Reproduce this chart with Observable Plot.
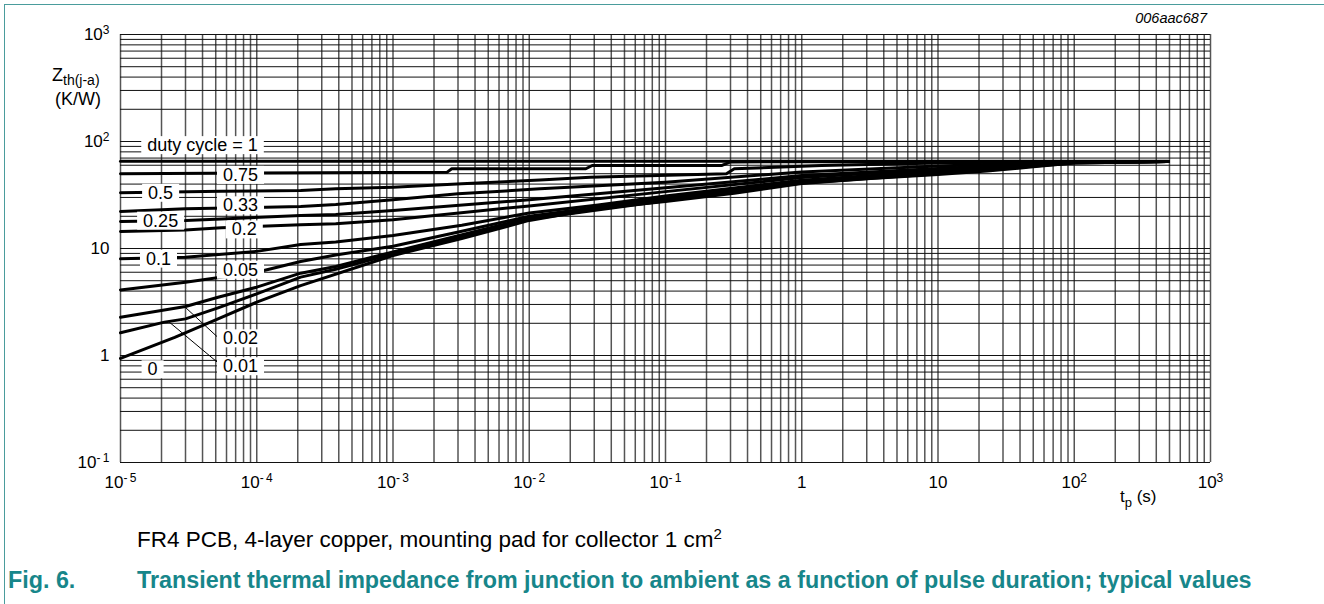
<!DOCTYPE html>
<html><head><meta charset="utf-8">
<script src="https://cdn.jsdelivr.net/npm/d3@7"></script>
<script src="https://cdn.jsdelivr.net/npm/@observablehq/plot@0.6"></script>
<style>
html,body{margin:0;padding:0;background:#fff;}
#fig{position:relative;width:1324px;height:604px;overflow:hidden;font-family:"Liberation Sans",Arial,sans-serif;}
#frame{position:absolute;left:4px;top:4px;right:0;bottom:0;border-left:1.5px solid #4a9c9c;border-top:1.5px solid #4a9c9c;}
#chart{position:absolute;left:0;top:0;}
.cap{position:absolute;line-height:26px;white-space:nowrap;}
#note{left:137px;top:527px;color:#000;font-size:22.5px;}
#note sup{font-size:15px;position:relative;top:-6px;vertical-align:top;}
#fignum{left:8px;top:567px;font-weight:bold;color:#17868a;font-size:23.3px;}
#figtxt{left:137px;top:567px;font-weight:bold;color:#17868a;font-size:23.3px;}
</style></head>
<body>
<div id="fig">
  <div id="frame"></div>
  <div id="chart"></div>
  <div class="cap" id="note">FR4 PCB, 4-layer copper, mounting pad for collector 1 cm<sup>2</sup></div>
  <div class="cap" id="fignum">Fig. 6.</div>
  <div class="cap" id="figtxt">Transient thermal impedance from junction to ambient as a function of pulse duration; typical values</div>
</div>
<script>
// ---- data ----
const dutyCycles = ["1", "0.75", "0.5", "0.33", "0.25", "0.2", "0.1", "0.05", "0.02", "0.01", "0"];

const t_d1   = [1e-5, 490];
const z_d1   = [65.5, 65.5];

const t_d075 = [1e-5, 2.5e-3, 2.7e-3, 2.6e-2, 2.9e-2, 0.26, 0.3, 490];
const z_d075 = [50, 51.7, 55.6, 55.6, 59.7, 59.7, 64.5, 65];

const t_d05  = [1e-5, 5.5e-5, 2.1e-4, 3.8e-4, 1e-3, 3.2e-3, 1.2e-2, 2.8e-2, 0.28, 0.32, 1.4, 10, 100, 490];
const z_d05  = [33.2, 34.2, 34.8, 36.1, 37.4, 40.3, 43.7, 46.4, 49.9, 55.6, 59.7, 63, 65, 65];

const t_d033 = [1e-5, 3e-5, 2.1e-4, 3.8e-4, 1e-3, 3e-3, 1.2e-2, 0.1, 1, 10, 100, 490];
const z_d033 = [22.2, 23.5, 24.7, 25.8, 28.6, 32.5, 36.1, 41.7, 52, 59, 64.5, 65];

const t_d025 = [1e-5, 3e-5, 5.5e-5, 2.1e-4, 3.8e-4, 1e-3, 1e-2, 0.1, 1, 10, 100, 490];
const z_d025 = [17.9, 18.3, 18.9, 20.3, 20.8, 22.6, 28.5, 37, 48, 56, 64, 65];

const t_d02  = [1e-5, 3e-5, 5.5e-5, 2.1e-4, 3.8e-4, 1e-3, 1e-2, 0.1, 1, 10, 100, 490];
const z_d02  = [14.4, 14.9, 15.6, 16.7, 17.0, 18.6, 25, 34, 46, 55, 64, 65];

const t_d01  = [1e-5, 3e-5, 1e-4, 2.1e-4, 3.8e-4, 1e-3, 3.2e-3, 1e-2, 3.2e-2, 0.1, 1, 10, 100, 490];
const z_d01  = [8.0, 8.3, 9.4, 10.9, 11.5, 13.2, 16.5, 21.5, 25.5, 31, 43.5, 53, 64, 65];

const t_d005 = [1e-5, 3e-5, 1e-4, 2.1e-4, 3.8e-4, 1e-3, 3.2e-3, 1e-2, 0.1, 1, 10, 100, 490];
const z_d005 = [4.1, 4.84, 6.0, 7.56, 8.7, 10.5, 14.5, 20, 29.5, 42.5, 52, 64, 65];

const t_d002 = [1e-5, 3e-5, 5.2e-5, 1e-4, 2.1e-4, 3.8e-4, 1e-3, 1e-2, 0.1, 1, 10, 100, 490];
const z_d002 = [2.28, 2.87, 3.5, 4.35, 5.88, 6.8, 9.3, 19.3, 28.5, 41.5, 50.5, 63.5, 65];

const t_d001 = [1e-5, 2.1e-5, 3e-5, 5.2e-5, 1e-4, 2.1e-4, 3.8e-4, 1e-3, 1e-2, 0.1, 1, 10, 100, 490];
const z_d001 = [1.63, 2.05, 2.2, 2.79, 3.77, 5.4, 6.4, 8.9, 18.8, 28, 41, 50, 63, 65];

const t_d0   = [1e-5, 2.5e-5, 5.2e-5, 1e-4, 2.1e-4, 1e-3, 3.2e-3, 1e-2, 3.2e-2, 0.1, 0.32, 1, 3.2, 10, 23, 50, 100, 490];
const z_d0   = [0.94, 1.48, 2.2, 3.15, 4.5, 8.6, 12.4, 18.3, 23.7, 27.5, 32.9, 40.5, 45, 49.2, 53, 58, 63, 65];

// label annotations (text, t, Z)
const labelText = ["duty cycle = 1", "0.75", "0.5", "0.33", "0.25", "0.2", "0.1", "0.05", "0.02", "0.01", "0"];
const labelT    = [4.0e-5, 7.6e-5, 1.97e-5, 7.6e-5, 1.97e-5, 8.1e-5, 1.9e-5, 7.6e-5, 7.6e-5, 7.6e-5, 1.72e-5];
const labelZ    = [92, 48.5, 33, 25.2, 18.1, 15.0, 8.0, 6.3, 1.44, 0.79, 0.74];

// leader lines (from curve to label)
const leaderT1 = [3.0e-5, 2.25e-5];
const leaderZ1 = [2.81, 2.08];
const leaderT2 = [5.6e-5, 5.6e-5];
const leaderZ2 = [1.35, 0.79];

// axis ticks
const xTicks = [1e-5, 1e-4, 1e-3, 1e-2, 1e-1, 1, 10, 100, 1000];
const xTickLabels = ["10^-5", "10^-4", "10^-3", "10^-2", "10^-1", "1", "10", "10^2", "10^3"];
const yTicks = [0.1, 1, 10, 100, 1000];
const yTickLabels = ["10^-1", "1", "10", "10^2", "10^3"];

// ---- build tables ----
const series = [
  [t_d1, z_d1], [t_d075, z_d075], [t_d05, z_d05], [t_d033, z_d033], [t_d025, z_d025],
  [t_d02, z_d02], [t_d01, z_d01], [t_d005, z_d005], [t_d002, z_d002], [t_d001, z_d001], [t_d0, z_d0]
];
const rows = [];
series.forEach(([ts, zs], i) => ts.forEach((t, j) => rows.push({duty: dutyCycles[i], t, z: zs[j]})));
const labels = labelText.map((s, i) => ({s, t: labelT[i], z: labelZ[i]}));
const leaders = leaderT1.map((t, i) => ({t1: t, z1: leaderZ1[i], t2: leaderT2[i], z2: leaderZ2[i]}));

const xGrid = []; for (let d = -5; d < 3; d++) for (let k = 1; k < 10; k++) xGrid.push(k * Math.pow(10, d)); xGrid.push(1000);
const yGrid = []; for (let d = -1; d < 3; d++) for (let k = 1; k < 10; k++) yGrid.push(k * Math.pow(10, d)); yGrid.push(1000);

const fmtX = v => xTickLabels[xTicks.findIndex(u => Math.abs(Math.log10(u) - Math.log10(v)) < 1e-6)];
const fmtY = v => yTickLabels[yTicks.findIndex(u => Math.abs(Math.log10(u) - Math.log10(v)) < 1e-6)];

const chart = Plot.plot({
  width: 1324, height: 510,
  marginLeft: 120, marginRight: 114, marginTop: 34, marginBottom: 48,
  style: {fontFamily: "'Liberation Sans', Arial, sans-serif", background: "transparent", color: "#000"},
  x: {type: "log", domain: [1e-5, 1e3]},
  y: {type: "log", domain: [0.1, 1000]},
  marks: [
    Plot.ruleX(xGrid, {stroke: "#555", strokeWidth: 1.5}),
    Plot.ruleY(yGrid, {stroke: "#111", strokeWidth: 1}),
    Plot.line(rows, {x: "t", y: "z", z: "duty", stroke: "#000", strokeWidth: 3, strokeLinejoin: "round"}),
    Plot.link(leaders, {x1: "t1", y1: "z1", x2: "t2", y2: "z2", stroke: "#000", strokeWidth: 1}),
    Plot.text(labels, {x: "t", y: "z", text: "s", fontSize: 18, fill: "#000", textAnchor: "middle"}),
    Plot.axisX(xTicks, {tickSize: 0, tickPadding: 13, fontSize: 17, tickFormat: fmtX, label: null}),
    Plot.axisY(yTicks, {tickSize: 0, tickPadding: 11, fontSize: 17, tickFormat: fmtY, label: null})
  ]
});
document.getElementById("chart").appendChild(chart);

const svg = d3.select(chart);
// superscripts in tick labels
svg.selectAll('g[aria-label="x-axis tick label"] text, g[aria-label="y-axis tick label"] text').each(function () {
  const s = this.textContent;
  if (s.includes("^")) {
    const [base, exp] = s.split("^");
    const el = d3.select(this);
    el.text(base);
    el.append("tspan").attr("dy", "-0.5em").attr("font-size", 12).text(exp.replace("-", "-\u2009"));
  }
});
// white boxes behind curve labels
svg.selectAll('g[aria-label="text"] text').each(function () {
  const b = this.getBBox();
  const r = document.createElementNS("http://www.w3.org/2000/svg", "rect");
  r.setAttribute("x", b.x - 6); r.setAttribute("y", b.y + 1);
  r.setAttribute("width", b.width + 12); r.setAttribute("height", b.height - 2);
  r.setAttribute("fill", "#fff");
  const tr = this.getAttribute("transform"); if (tr) r.setAttribute("transform", tr);
  this.parentNode.insertBefore(r, this);
});
// axis titles and code
const ann = svg.append("g").attr("font-family", "'Liberation Sans', Arial, sans-serif").attr("fill", "#000").attr("text-anchor", "start");
const zt = ann.append("text").attr("x", 52).attr("y", 81).attr("font-size", 18);
zt.append("tspan").text("Z");
zt.append("tspan").attr("dy", 4).attr("font-size", 14).text("th(j-a)");
ann.append("text").attr("x", 55).attr("y", 105).attr("font-size", 18).text("(K/W)");
const tp = ann.append("text").attr("x", 1120).attr("y", 502).attr("font-size", 17);
tp.append("tspan").text("t");
tp.append("tspan").attr("dy", 5).attr("font-size", 13).text("p");
tp.append("tspan").attr("dy", -5).text(" (s)");
ann.append("text").attr("x", 1207).attr("y", 23).attr("font-size", 14.5).attr("font-style", "italic").attr("text-anchor", "end").text("006aac687");
</script>
</body></html>
